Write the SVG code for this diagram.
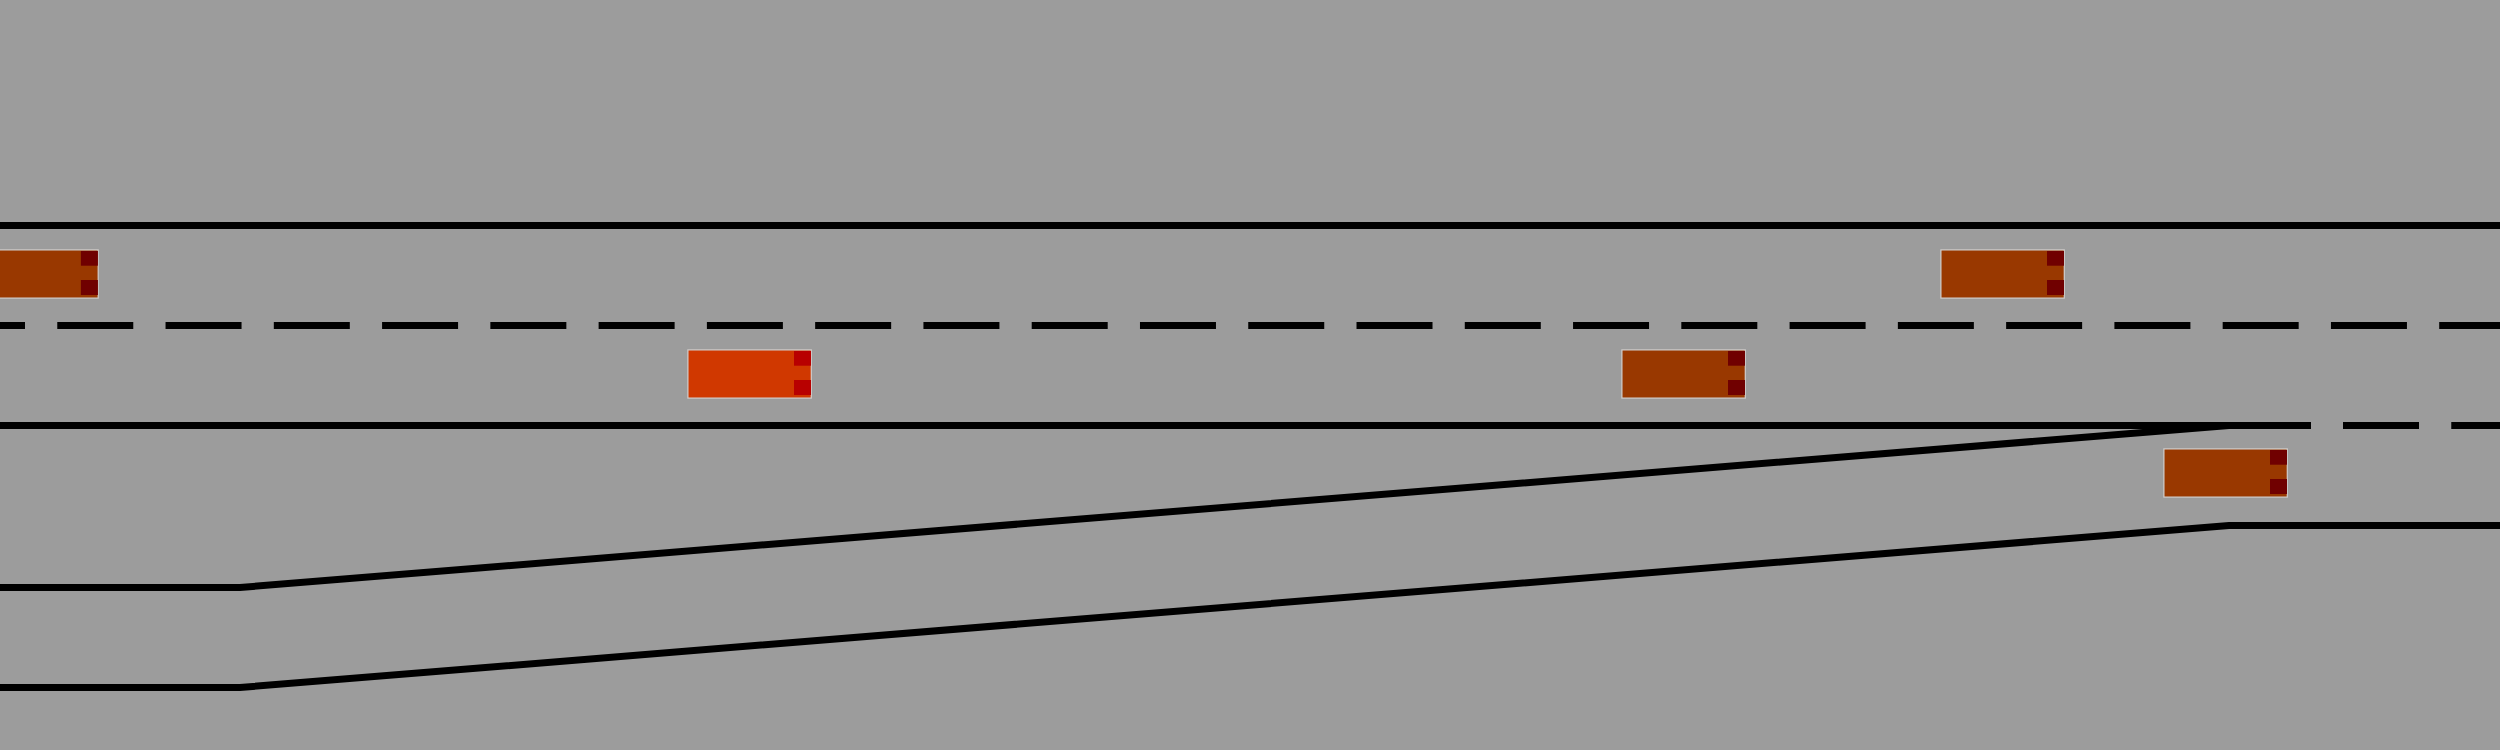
<svg xmlns="http://www.w3.org/2000/svg" width="2500" height="750" viewBox="0 0 2500 750">
<style>
.line{stroke:#000;stroke-width:7;fill:none}
.dash{stroke-dasharray:76 32.27}
.body{stroke:#cfcfcf;stroke-width:1.2;fill:#993800}
.light{fill:#700000}
.ego .body{fill:#d03800}
.ego .light{fill:#b80000}
</style>
<rect width="2500" height="750" fill="#9c9c9c"/>
<g id="road">
<line class="line" x1="0" y1="225.5" x2="2500" y2="225.5"/>
<line class="line dash" x1="0" y1="325.5" x2="2500" y2="325.5" stroke-dashoffset="51"/>
<line class="line" x1="0" y1="425.5" x2="2311" y2="425.5"/>
<line class="line dash" x1="2343" y1="425.5" x2="2500" y2="425.5"/>
<polyline class="line" points="0,587.5 240,587.5 2229,425.5"/>
<polyline class="line" points="0,687.5 240,687.5 2229,525.5 2500,525.5"/>
</g>
<g id="car1" class="car" transform="translate(-25.8,249.3)">
<rect class="body" x="0.6" y="0.6" width="123.4" height="48.2"/>
<rect class="light" x="106.7" y="1.7" width="17" height="14.7"/>
<rect class="light" x="106.7" y="30.7" width="17" height="15"/>
</g>
<g id="car2" class="ego" transform="translate(687.3,349.3)">
<rect class="body" x="0.6" y="0.6" width="123.4" height="48.2"/>
<rect class="light" x="106.7" y="1.7" width="17" height="14.7"/>
<rect class="light" x="106.7" y="30.7" width="17" height="15"/>
</g>
<g id="car3" class="car" transform="translate(1621.3,349.3)">
<rect class="body" x="0.6" y="0.6" width="123.4" height="48.2"/>
<rect class="light" x="106.7" y="1.7" width="17" height="14.7"/>
<rect class="light" x="106.7" y="30.7" width="17" height="15"/>
</g>
<g id="car4" class="car" transform="translate(1940.3,249.3)">
<rect class="body" x="0.6" y="0.6" width="123.4" height="48.2"/>
<rect class="light" x="106.7" y="1.7" width="17" height="14.7"/>
<rect class="light" x="106.7" y="30.7" width="17" height="15"/>
</g>
<g id="car5" class="car" transform="translate(2163.3,448.3)">
<rect class="body" x="0.6" y="0.6" width="123.4" height="48.2"/>
<rect class="light" x="106.7" y="1.7" width="17" height="14.7"/>
<rect class="light" x="106.7" y="30.7" width="17" height="15"/>
</g>
</svg>
